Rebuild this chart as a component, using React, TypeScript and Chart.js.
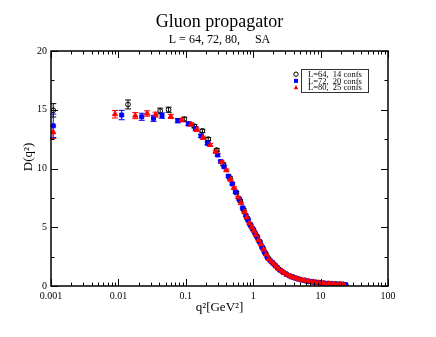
import React, { useEffect, useRef } from "react";
import { Chart, registerables } from "chart.js";

Chart.register(...registerables);

// L=64, 14 confs (first point: q^2 = 0, drawn at the left edge)
const Q64 = [0.00108, 0.0139, 0.0417, 0.0556, 0.095, 0.134, 0.176, 0.215, 0.288, 0.36, 0.45, 0.56, 0.64, 0.72, 0.82, 0.9, 1.0, 1.12, 1.24, 1.38, 1.52, 1.68, 1.9, 2.15, 2.45, 2.75, 3.1, 3.5, 3.95, 4.5, 5.1, 5.8, 6.6, 7.6, 8.6, 9.8, 11.2, 12.8, 14.6, 16.6, 19, 21.5];
const D64 = [14.95, 15.45, 14.9, 15.0, 14.2, 13.6, 13.2, 12.5, 11.57, 10.35, 9.2, 7.95, 7.25, 6.5, 5.75, 5.25, 4.8, 4.28, 3.8, 3.25, 2.78, 2.34, 2.02, 1.72, 1.4, 1.19, 1.0, 0.86, 0.75, 0.63, 0.54, 0.47, 0.4, 0.35, 0.31, 0.27, 0.23, 0.205, 0.18, 0.165, 0.145, 0.13];
const E64 = [0.57, 0.38, 0.24, 0.22, 0.17, 0.15, 0.14, 0.13, 0.12, 0.11, 0.1, 0.09, 0.08, 0.08, 0.07, 0.07, 0.06, 0.06, 0.05, 0.05, 0.04, 0.04, 0.04, 0.03, 0.03, 0.03, 0.03, 0.02, 0.02, 0.02, 0.02, 0.02, 0.02, 0.02, 0.02, 0.02, 0.02, 0.02, 0.02, 0.02, 0.02, 0.02];

// L=72, 20 confs
const Q72 = [0.00108, 0.0112, 0.0222, 0.0332, 0.0444, 0.076, 0.109, 0.14, 0.168, 0.21, 0.297, 0.33, 0.37, 0.43, 0.49, 0.55, 0.62, 0.7, 0.78, 0.84, 0.92, 0.99, 1.06, 1.15, 1.25, 1.36, 1.48, 1.62, 1.78, 1.95, 2.1, 2.3, 2.55, 2.8, 3.1, 3.4, 3.75, 4.15, 4.6, 5.1, 5.7, 6.3, 7.0, 7.9, 8.8, 9.9, 11, 12.4, 13.8, 15.3, 17, 19, 21.5, 23.5];
const D72 = [13.63, 14.55, 14.4, 14.27, 14.5, 14.07, 13.8, 13.4, 12.77, 12.14, 11.15, 10.6, 10.15, 9.35, 8.7, 8.0, 7.4, 6.65, 6.0, 5.6, 5.15, 4.85, 4.52, 4.15, 3.75, 3.3, 2.88, 2.46, 2.18, 1.97, 1.78, 1.55, 1.33, 1.16, 1.0, 0.88, 0.77, 0.68, 0.61, 0.54, 0.48, 0.42, 0.38, 0.33, 0.3, 0.26, 0.235, 0.21, 0.19, 0.175, 0.16, 0.145, 0.13, 0.12];
const E72 = [1.0, 0.4, 0.3, 0.26, 0.23, 0.18, 0.16, 0.15, 0.14, 0.13, 0.11, 0.11, 0.1, 0.1, 0.09, 0.09, 0.08, 0.08, 0.07, 0.07, 0.06, 0.06, 0.06, 0.05, 0.05, 0.05, 0.04, 0.04, 0.04, 0.03, 0.03, 0.03, 0.03, 0.03, 0.02, 0.02, 0.02, 0.02, 0.02, 0.02, 0.02, 0.02, 0.02, 0.02, 0.02, 0.02, 0.02, 0.02, 0.02, 0.02, 0.02, 0.02, 0.02, 0.02];

// L=80, 25 confs
const Q80 = [0.00108, 0.0089, 0.0178, 0.0267, 0.0356, 0.06, 0.087, 0.12, 0.145, 0.18, 0.23, 0.278, 0.34, 0.4, 0.46, 0.52, 0.6, 0.66, 0.74, 0.8, 0.88, 0.95, 1.02, 1.1, 1.2, 1.3, 1.42, 1.55, 1.7, 1.85, 2.0, 2.2, 2.4, 2.65, 2.9, 3.2, 3.5, 3.9, 4.3, 4.8, 5.3, 5.9, 6.6, 7.4, 8.3, 9.3, 10.4, 11.6, 13, 14.5, 16, 18, 20, 22];
const D80 = [13.08, 14.62, 14.5, 14.68, 14.58, 14.42, 14.12, 13.76, 13.3, 12.62, 12.0, 11.43, 10.55, 9.85, 9.05, 8.35, 7.55, 7.05, 6.3, 5.85, 5.35, 5.0, 4.7, 4.35, 3.92, 3.55, 3.1, 2.68, 2.3, 2.08, 1.9, 1.65, 1.45, 1.26, 1.1, 0.96, 0.85, 0.74, 0.66, 0.58, 0.52, 0.46, 0.4, 0.36, 0.31, 0.28, 0.25, 0.22, 0.2, 0.18, 0.17, 0.15, 0.14, 0.13];
const E80 = [0.53, 0.32, 0.26, 0.23, 0.21, 0.17, 0.15, 0.14, 0.14, 0.13, 0.12, 0.11, 0.1, 0.1, 0.09, 0.09, 0.08, 0.08, 0.07, 0.07, 0.06, 0.06, 0.06, 0.05, 0.05, 0.05, 0.04, 0.04, 0.04, 0.03, 0.03, 0.03, 0.03, 0.03, 0.03, 0.02, 0.02, 0.02, 0.02, 0.02, 0.02, 0.02, 0.02, 0.02, 0.02, 0.02, 0.02, 0.02, 0.02, 0.02, 0.02, 0.02, 0.02, 0.02];

const X_TICKS = [0.001, 0.01, 0.1, 1, 10, 100];
const Y_TICKS = [0, 5, 10, 15, 20];
const LEGEND = ["L=64,  14 confs", "L=72,  20 confs", "L=80,  25 confs"];
const TITLE = "Gluon propagator";
const SUBTITLE = "L = 64, 72, 80,     SA";

const SERIF = "'Liberation Serif', 'Times New Roman', serif";

const series = [
  { q: Q64, d: D64, e: E64, color: "#000000", style: "circle", radius: 2.4, fill: "rgba(255,255,255,0)" },
  { q: Q72, d: D72, e: E72, color: "#0000ff", style: "rect", radius: 2.8, fill: "#0000ff" },
  { q: Q80, d: D80, e: E80, color: "#ff0000", style: "triangle", radius: 3, fill: "#ff0000" },
];

const errorBars = {
  id: "errorBars",
  beforeDatasetsDraw(chart: any) {
    const ctx = chart.ctx;
    const xs = chart.scales.x;
    const ys = chart.scales.y;
    ctx.save();
    ctx.lineWidth = 1;
    series.forEach((s) => {
      ctx.strokeStyle = s.color;
      s.q.forEach((q, i) => {
        const x = xs.getPixelForValue(q);
        const y1 = ys.getPixelForValue(s.d[i] + s.e[i]);
        const y2 = ys.getPixelForValue(s.d[i] - s.e[i]);
        ctx.beginPath();
        ctx.moveTo(x, y1);
        ctx.lineTo(x, y2);
        ctx.moveTo(x - 3, y1);
        ctx.lineTo(x + 3, y1);
        ctx.moveTo(x - 3, y2);
        ctx.lineTo(x + 3, y2);
        ctx.stroke();
      });
    });
    ctx.restore();
  },
};

const frame = {
  id: "frame",
  afterDraw(chart: any) {
    const ctx = chart.ctx;
    const a = chart.chartArea;
    const xs = chart.scales.x;
    const ys = chart.scales.y;
    ctx.save();
    ctx.strokeStyle = "#000";
    ctx.lineWidth = 1.5;
    ctx.strokeRect(a.left, a.top, a.right - a.left, a.bottom - a.top);
    ctx.lineWidth = 1;
    ctx.beginPath();
    X_TICKS.forEach((t, k) => {
      const px = Math.round(xs.getPixelForValue(t)) + 0.5;
      ctx.moveTo(px, a.bottom);
      ctx.lineTo(px, a.bottom - 7);
      ctx.moveTo(px, a.top);
      ctx.lineTo(px, a.top + 7);
      if (k < X_TICKS.length - 1) {
        for (let m = 2; m <= 9; m++) {
          const mx = Math.round(xs.getPixelForValue(t * m)) + 0.5;
          ctx.moveTo(mx, a.bottom);
          ctx.lineTo(mx, a.bottom - 3.5);
          ctx.moveTo(mx, a.top);
          ctx.lineTo(mx, a.top + 3.5);
        }
      }
    });
    Y_TICKS.forEach((t, k) => {
      const py = Math.round(ys.getPixelForValue(t)) + 0.5;
      ctx.moveTo(a.left, py);
      ctx.lineTo(a.left + 7, py);
      ctx.moveTo(a.right, py);
      ctx.lineTo(a.right - 7, py);
      if (k < Y_TICKS.length - 1) {
        const my = Math.round(ys.getPixelForValue(t + 2.5)) + 0.5;
        ctx.moveTo(a.left, my);
        ctx.lineTo(a.left + 3.5, my);
        ctx.moveTo(a.right, my);
        ctx.lineTo(a.right - 3.5, my);
      }
    });
    ctx.stroke();

    const cx = (a.left + a.right) / 2;
    ctx.fillStyle = "#000";
    ctx.textAlign = "center";
    ctx.textBaseline = "alphabetic";
    ctx.font = `18px ${SERIF}`;
    ctx.fillText(TITLE, cx, 27);
    ctx.font = `12px ${SERIF}`;
    ctx.fillText(SUBTITLE, cx, 43);

    ctx.font = `13px ${SERIF}`;
    ctx.fillText("q²[GeV²]", cx, 311);
    ctx.save();
    ctx.translate(32, 157);
    ctx.rotate(-Math.PI / 2);
    ctx.fillText("D(q²)", 0, 0);
    ctx.restore();

    const bx = 301, by = 69, bw = 67, bh = 23;
    ctx.strokeStyle = "#333";
    ctx.lineWidth = 1;
    ctx.strokeRect(bx + 0.5, by + 0.5, bw, bh);
    ctx.font = `8.5px ${SERIF}`;
    ctx.textAlign = "left";
    const rows = [77, 83.7, 90.2];
    series.forEach((s, i) => {
      ctx.fillStyle = "#000";
      ctx.fillText(LEGEND[i], 308, rows[i]);
      const sx = 296, sy = rows[i] - 2.8;
      ctx.fillStyle = s.fill;
      ctx.strokeStyle = s.color;
      ctx.beginPath();
      if (s.style === "circle") {
        ctx.arc(sx, sy, 2.2, 0, Math.PI * 2);
        ctx.stroke();
      } else if (s.style === "rect") {
        ctx.fillRect(sx - 2, sy - 2, 4, 4);
      } else {
        ctx.moveTo(sx, sy - 2.5);
        ctx.lineTo(sx + 2.3, sy + 1.8);
        ctx.lineTo(sx - 2.3, sy + 1.8);
        ctx.closePath();
        ctx.fill();
      }
    });
    ctx.restore();
  },
};

export default function App() {
  const ref = useRef<HTMLCanvasElement | null>(null);
  useEffect(() => {
    if (!ref.current) return;
    const chart = new Chart(ref.current, {
      type: "scatter",
      data: {
        datasets: series.map((s, i) => ({
          label: LEGEND[i],
          data: s.q.map((q, j) => ({ x: q, y: s.d[j] })),
          order: series.length - 1 - i,
          pointStyle: s.style as any,
          pointRadius: s.radius,
          borderWidth: 1,
          borderColor: s.color,
          backgroundColor: s.fill,
          showLine: false,
        })),
      },
      options: {
        responsive: false,
        animation: false,
        devicePixelRatio: 1,
        layout: { padding: { left: 0, top: 51, right: 48, bottom: 0 } },
        plugins: { legend: { display: false }, title: { display: false }, tooltip: { enabled: false } },
        scales: {
          x: {
            type: "logarithmic",
            min: 0.001,
            max: 100,
            grid: { display: false, drawTicks: false },
            border: { display: false },
            afterBuildTicks: (scale: any) => {
              scale.ticks = X_TICKS.map((v) => ({ value: v, major: true }));
            },
            afterFit: (scale: any) => {
              scale.height = 51;
            },
            ticks: {
              autoSkip: false,
              maxRotation: 0,
              minRotation: 0,
              padding: 4,
              color: "#000",
              font: { family: SERIF, size: 10 },
              callback: (v: any) => String(v),
            },
          },
          y: {
            min: 0,
            max: 20,
            grid: { display: false, drawTicks: false },
            border: { display: false },
            afterBuildTicks: (scale: any) => {
              scale.ticks = Y_TICKS.map((v) => ({ value: v }));
            },
            afterFit: (scale: any) => {
              scale.width = 51;
            },
            ticks: {
              padding: 4,
              color: "#000",
              font: { family: SERIF, size: 10 },
              callback: (v: any) => String(v),
            },
          },
        },
      },
      plugins: [errorBars, frame],
    });
    return () => chart.destroy();
  }, []);
  return (
    <div style={{ position: "fixed", left: 0, top: 0, width: 436, height: 337, background: "#fff" }}>
      <canvas ref={ref} width={436} height={337} style={{ width: 436, height: 337 }} />
    </div>
  );
}
